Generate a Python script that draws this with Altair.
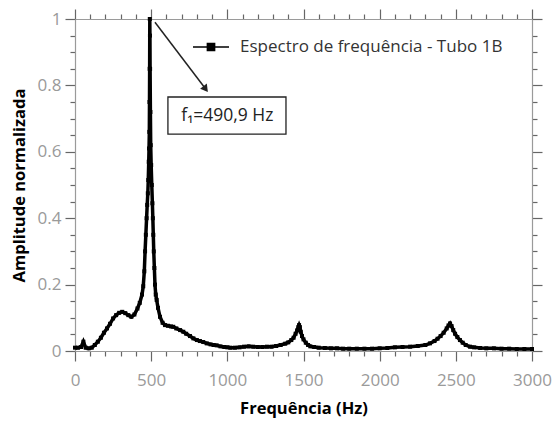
import altair as alt
import pandas as pd

# Frequency (Hz) and normalised amplitude
freq = [0, 20, 40, 55, 70, 90, 110, 130, 150, 170, 190, 210, 230, 250, 270, 290,
        310, 330, 350, 370, 390, 410, 425, 440, 448, 455, 460, 465, 470, 474, 478,
        481, 484, 486, 488, 489, 490, 491, 492, 493, 495, 497, 500, 504, 508, 511,
        514, 517, 521, 525, 530, 536, 545, 558, 575, 591, 610, 630, 645, 665, 690,
        711, 730, 755, 777, 800, 820, 842, 865, 890, 910, 930, 955, 980, 1000, 1020,
        1050, 1080, 1110, 1140, 1170, 1200, 1230, 1260, 1290, 1320, 1350, 1380, 1400,
        1420, 1435, 1448, 1458, 1466, 1471, 1476, 1482, 1490, 1500, 1515, 1530, 1545,
        1570, 1600, 1640, 1680, 1720, 1760, 1800, 1850, 1900, 1950, 2000, 2050, 2100,
        2150, 2200, 2250, 2300, 2330, 2360, 2380, 2400, 2420, 2440, 2452, 2462, 2472,
        2483, 2495, 2510, 2527, 2545, 2565, 2593, 2620, 2660, 2700, 2750, 2800, 2850,
        2900, 2950, 3000]
amp = [0.010, 0.010, 0.012, 0.028, 0.010, 0.008, 0.010, 0.018, 0.028, 0.040, 0.055,
       0.068, 0.082, 0.098, 0.108, 0.115, 0.118, 0.114, 0.108, 0.103, 0.110, 0.128,
       0.145, 0.170, 0.195, 0.240, 0.300, 0.350, 0.400, 0.440, 0.475, 0.515, 0.570,
       0.610, 0.660, 0.750, 0.850, 1.000, 0.950, 0.850, 0.720, 0.620, 0.560, 0.500,
       0.445, 0.400, 0.350, 0.300, 0.250, 0.200, 0.170, 0.154, 0.130, 0.103, 0.085,
       0.078, 0.076, 0.074, 0.073, 0.068, 0.063, 0.058, 0.052, 0.045, 0.038, 0.033,
       0.030, 0.027, 0.023, 0.020, 0.018, 0.017, 0.014, 0.012, 0.011, 0.010, 0.010,
       0.011, 0.013, 0.014, 0.013, 0.012, 0.012, 0.013, 0.013, 0.015, 0.018, 0.022,
       0.026, 0.033, 0.040, 0.052, 0.062, 0.072, 0.078, 0.072, 0.058, 0.045, 0.035,
       0.025, 0.018, 0.014, 0.012, 0.010, 0.009, 0.008, 0.008, 0.007, 0.007, 0.007,
       0.007, 0.007, 0.008, 0.009, 0.011, 0.012, 0.013, 0.015, 0.018, 0.023, 0.030,
       0.037, 0.045, 0.055, 0.068, 0.077, 0.083, 0.075, 0.063, 0.052, 0.042, 0.033,
       0.025, 0.018, 0.013, 0.011, 0.009, 0.008, 0.008, 0.007, 0.007, 0.006, 0.006,
       0.006]
series_name = "Espectro de frequência - Tubo 1B"

x_ticks = list(range(0, 3001, 100))
y_ticks = [round(i * 0.05, 2) for i in range(0, 21)]

peak_label = "f\u2081=490,9 Hz"
arrow_start = (525, 0.99)
arrow_end = (853, 0.792)
box = (610, 1385, 0.765, 0.653)  # x, x2, y, y2 in data units
label_pos = (1000, 0.707)

df = pd.DataFrame({"f": freq, "a": amp, "s": series_name})

FONT = "Open Sans"
GRAY = "#9a9a9a"
TICK = "#666666"

xmaj = "datum.value % 500 === 0"
ymaj = "abs(datum.value * 5 - round(datum.value * 5)) < 0.000001"

xscale = alt.Scale(domain=[0, 3000], nice=False, zero=False)
yscale = alt.Scale(domain=[0, 1], nice=False)

def xaxis(orient, labels):
    return alt.Axis(orient=orient, values=x_ticks, title="Frequência (Hz)" if labels else None,
                    labels=labels, labelExpr=f"{xmaj} ? datum.label : ''",
                    labelOverlap=False, labelFlush=False, labelFontSize=17, labelColor=GRAY,
                    labelFont=FONT, labelPadding=11, grid=False, domainColor=GRAY,
                    domainWidth=1.2, tickColor=TICK, tickWidth=1.2,
                    tickSize={"condition": {"test": xmaj, "value": 10}, "value": 5},
                    titleFont=FONT, titleFontSize=16.5, titleFontWeight="bold", titleColor="black",
                    titlePadding=12, format="d")

def yaxis(orient, labels):
    return alt.Axis(orient=orient, values=y_ticks, title="Amplitude normalizada" if labels else None,
                    labels=labels, labelExpr=f"{ymaj} ? (datum.value == 1 ? '1' : (datum.value == 0 ? '0' : format(datum.value, '.1f'))) : ''",
                    labelOverlap=False, labelFlush=False, labelFontSize=17, labelColor=GRAY,
                    labelFont=FONT, labelPadding=4, grid=False, domainColor=GRAY,
                    domainWidth=1.2, tickColor=TICK, tickWidth=1.2,
                    tickSize={"condition": {"test": ymaj, "value": 10}, "value": 5},
                    titleFont=FONT, titleFontSize=16.5, titleFontWeight="bold", titleColor="black",
                    titlePadding=10)

legend = alt.Legend(orient="none", legendX=117, legendY=9, title=None, labelLimit=0,
                    symbolType="M-1,0L1,0M-0.2,-0.2L0.2,-0.2L0.2,0.2L-0.2,0.2Z",
                    symbolSize=1300, symbolStrokeWidth=1.5, symbolFillColor="black",
                    labelFont=FONT, labelFontSize=17, labelColor="#333333", labelOffset=10)

line = alt.Chart(df).mark_line(strokeWidth=3.5, color="black").encode(
    x=alt.X("f:Q", scale=xscale, axis=xaxis("bottom", True)),
    y=alt.Y("a:Q", scale=yscale, axis=yaxis("left", True)),
    color=alt.Color("s:N", scale=alt.Scale(range=["black"]), legend=legend),
)

pts = alt.Chart(df).mark_point(shape="square", filled=True, size=16, color="black", opacity=1).encode(
    x=alt.X("f:Q", scale=xscale, axis=xaxis("top", False)),
    y=alt.Y("a:Q", scale=yscale, axis=yaxis("right", False)),
)

ann_df = pd.DataFrame({"x": [arrow_start[0]], "y": [arrow_start[1]],
                       "x2": [arrow_end[0]], "y2": [arrow_end[1]]})
arrow = alt.Chart(ann_df).mark_rule(color="#222", strokeWidth=1.5).encode(
    x=alt.X("x:Q", scale=xscale, axis=None), y=alt.Y("y:Q", scale=yscale, axis=None),
    x2="x2:Q", y2="y2:Q")
head = alt.Chart(ann_df).mark_point(shape="triangle", filled=True, size=70, angle=143,
                                    color="#222", opacity=1).encode(
    x=alt.X("x2:Q", scale=xscale, axis=None), y=alt.Y("y2:Q", scale=yscale, axis=None))

box_df = pd.DataFrame({"x": [box[0]], "x2": [box[1]], "y": [box[2]], "y2": [box[3]],
                       "tx": [label_pos[0]], "ty": [label_pos[1]], "t": [peak_label]})
rect = alt.Chart(box_df).mark_rect(fill="white", stroke="#222", strokeWidth=1.3).encode(
    x=alt.X("x:Q", scale=xscale, axis=None), x2="x2:Q",
    y=alt.Y("y:Q", scale=yscale, axis=None), y2="y2:Q")
txt = alt.Chart(box_df).mark_text(font=FONT, fontSize=17.5, color="#222", align="center",
                                  baseline="middle").encode(
    x=alt.X("tx:Q", scale=xscale, axis=None), y=alt.Y("ty:Q", scale=yscale, axis=None),
    text="t:N")

chart = alt.layer(line, pts, arrow, head, rect, txt).resolve_axis(
    x="independent", y="independent"
).properties(
    width=457, height=332, autosize="none",
    padding={"left": 75, "top": 19, "right": 21, "bottom": 70},
).configure_view(stroke=None).configure(background="white")

chart.save("out.html", embed_options={"renderer": "svg", "actions": False})
